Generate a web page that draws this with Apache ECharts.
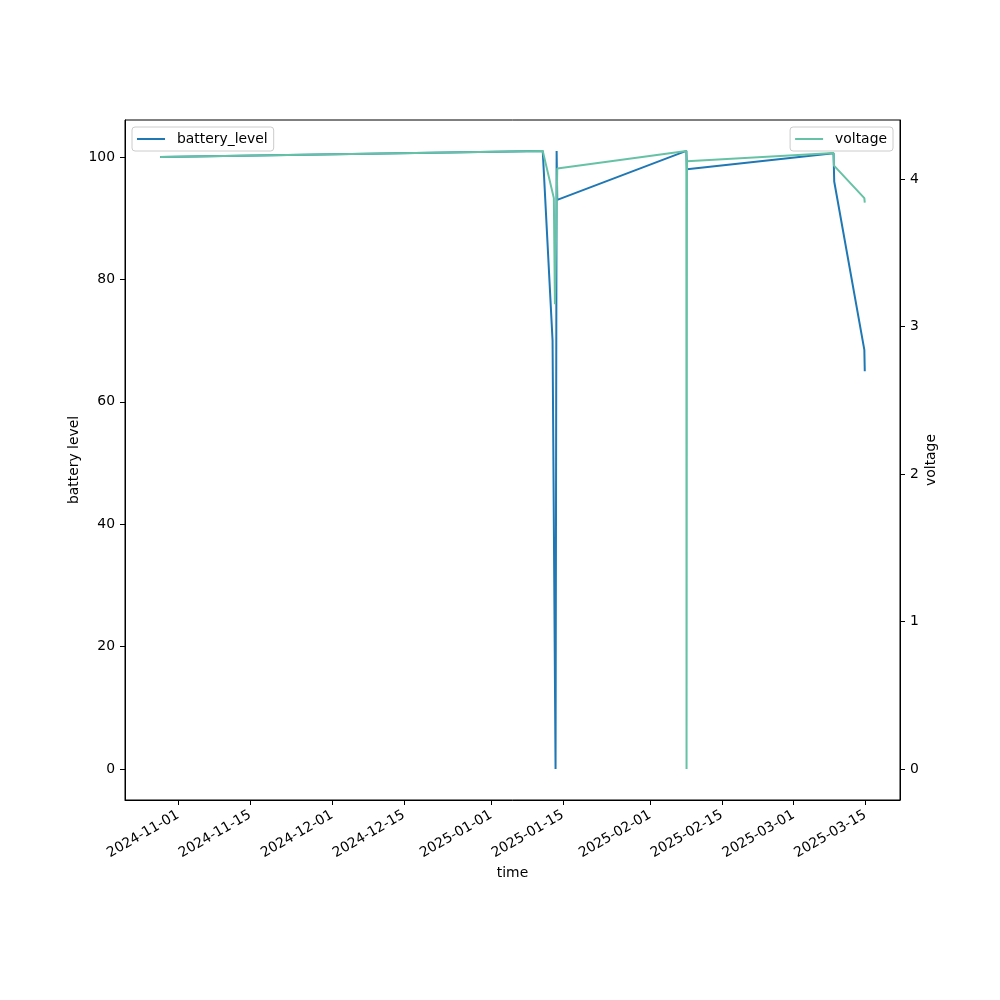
<!DOCTYPE html>
<html><head><meta charset="utf-8">
<script src="https://cdn.jsdelivr.net/npm/echarts@6/dist/echarts.min.js"></script>
<style>html,body{margin:0;padding:0;background:#fff}#c{width:1000px;height:1000px}</style>
</head><body><div id="c"></div>
<script>
// ---- data ----
const batteryTimes = [
  '2024-10-28T12:00', '2025-01-11T02:00', '2025-01-13T00:00', '2025-01-13T14:00',
  '2025-01-13T19:00', '2025-01-13T22:00', '2025-02-08T02:00', '2025-02-08T05:00',
  '2025-03-08T19:00', '2025-03-08T22:00', '2025-03-14T19:00', '2025-03-14T21:00'
];
const batteryValues = [100, 101, 70, 0, 101, 93, 101, 98, 100.6, 96, 68.5, 65];

const voltageTimes = [
  '2024-10-28T12:00', '2025-01-11T02:00', '2025-01-13T06:00', '2025-01-13T11:00',
  '2025-01-13T22:00', '2025-02-08T02:00', '2025-02-08T03:00', '2025-02-08T05:00',
  '2025-03-08T19:00', '2025-03-08T21:00', '2025-03-14T19:00', '2025-03-14T21:00'
];
const voltageValues = [4.148, 4.19, 3.87, 3.15, 4.07, 4.19, 0, 4.12, 4.175, 4.09, 3.87, 3.84];

const xTickLabels = ['2024-11-01', '2024-11-15', '2024-12-01', '2024-12-15', '2025-01-01',
  '2025-01-15', '2025-02-01', '2025-02-15', '2025-03-01', '2025-03-15'];
const leftTicks = [0, 20, 40, 60, 80, 100];
const rightTicks = [0, 1, 2, 3, 4];

// ---- helpers ----
const toTs = s => Date.parse(s + 'Z');
const pad2 = n => (n < 10 ? '0' : '') + n;
const fmtDate = v => { const d = new Date(v); return d.getUTCFullYear() + '-' + pad2(d.getUTCMonth() + 1) + '-' + pad2(d.getUTCDate()); };
const xTicks = xTickLabels.map(s => toTs(s + 'T00:00'));

const allTs = batteryTimes.concat(voltageTimes).map(toTs);
const tMin = Math.min(...allTs), tMax = Math.max(...allTs);
const tPad = (tMax - tMin) * 0.05;

function padRange(arr) {
  const lo = Math.min(...arr), hi = Math.max(...arr), p = (hi - lo) * 0.05;
  return [lo - p, hi + p];
}
const leftRange = padRange(batteryValues);
const rightRange = padRange(voltageValues);

const FONT = 'DejaVu Sans';
const FS = 13.9;

const chart = echarts.init(document.getElementById('c'), null, { renderer: 'canvas' });
const legendCommon = {
  top: 127, orient: 'horizontal', icon: 'rect', itemWidth: 28, itemHeight: 2,
  backgroundColor: 'rgba(255,255,255,0.8)', borderColor: '#cccccc', borderWidth: 1, borderRadius: 3,
  padding: [5, 6, 5, 5],
  textStyle: { fontFamily: FONT, fontSize: FS, color: '#000', padding: [0, 0, 0, 7] }
};

chart.setOption({
  animation: false,
  backgroundColor: '#fff',
  grid: { left: 125, right: 100, top: 120, bottom: 200, show: true, borderColor: '#000', borderWidth: 1, containLabel: false },
  legend: [
    Object.assign({}, legendCommon, { data: ['battery_level'], left: 132 }),
    Object.assign({}, legendCommon, { data: ['voltage'], right: 107 })
  ],
  xAxis: {
    type: 'value', min: tMin - tPad, max: tMax + tPad, scale: true,
    splitLine: { show: false },
    axisLine: { show: true, onZero: false, lineStyle: { color: '#000', width: 1 } },
    axisTick: { show: true, length: 5, lineStyle: { color: '#000' }, customValues: xTicks },
    axisLabel: { rotate: 30, customValues: xTicks, formatter: v => fmtDate(v), color: '#000',
      fontFamily: FONT, fontSize: FS, margin: 14, hideOverlap: false },
    name: 'time', nameLocation: 'middle', nameGap: 66, nameMoveOverlap: false,
    nameTextStyle: { fontFamily: FONT, fontSize: FS, color: '#000' }
  },
  yAxis: [
    {
      type: 'value', position: 'left', min: leftRange[0], max: leftRange[1],
      splitLine: { show: false },
      axisLine: { show: true, onZero: false, lineStyle: { color: '#000' } },
      axisTick: { show: true, length: 5, lineStyle: { color: '#000' }, customValues: leftTicks },
      axisLabel: { customValues: leftTicks, color: '#000', fontFamily: FONT, fontSize: FS, margin: 10 },
      name: 'battery level', nameLocation: 'middle', nameRotate: 90, nameGap: 44, nameMoveOverlap: false,
      nameTextStyle: { fontFamily: FONT, fontSize: FS, color: '#000' }
    },
    {
      type: 'value', position: 'right', min: rightRange[0], max: rightRange[1],
      splitLine: { show: false },
      axisLine: { show: true, onZero: false, lineStyle: { color: '#000' } },
      axisTick: { show: true, length: 5, lineStyle: { color: '#000' }, customValues: rightTicks },
      axisLabel: { customValues: rightTicks, color: '#000', fontFamily: FONT, fontSize: FS, margin: 10 },
      name: 'voltage', nameLocation: 'middle', nameRotate: 90, nameGap: 24, nameMoveOverlap: false,
      nameTextStyle: { fontFamily: FONT, fontSize: FS, color: '#000' }
    }
  ],
  series: [
    {
      type: 'line', name: 'battery_level', yAxisIndex: 0, symbol: 'none', showSymbol: false,
      data: batteryTimes.map((t, i) => [toTs(t), batteryValues[i]]),
      lineStyle: { width: 2, color: '#1f77b4' }, itemStyle: { color: '#1f77b4' }
    },
    {
      type: 'line', name: 'voltage', yAxisIndex: 1, symbol: 'none', showSymbol: false,
      data: voltageTimes.map((t, i) => [toTs(t), voltageValues[i]]),
      lineStyle: { width: 2, color: '#66c2a5' }, itemStyle: { color: '#66c2a5' }
    }
  ]
});
</script></body></html>
